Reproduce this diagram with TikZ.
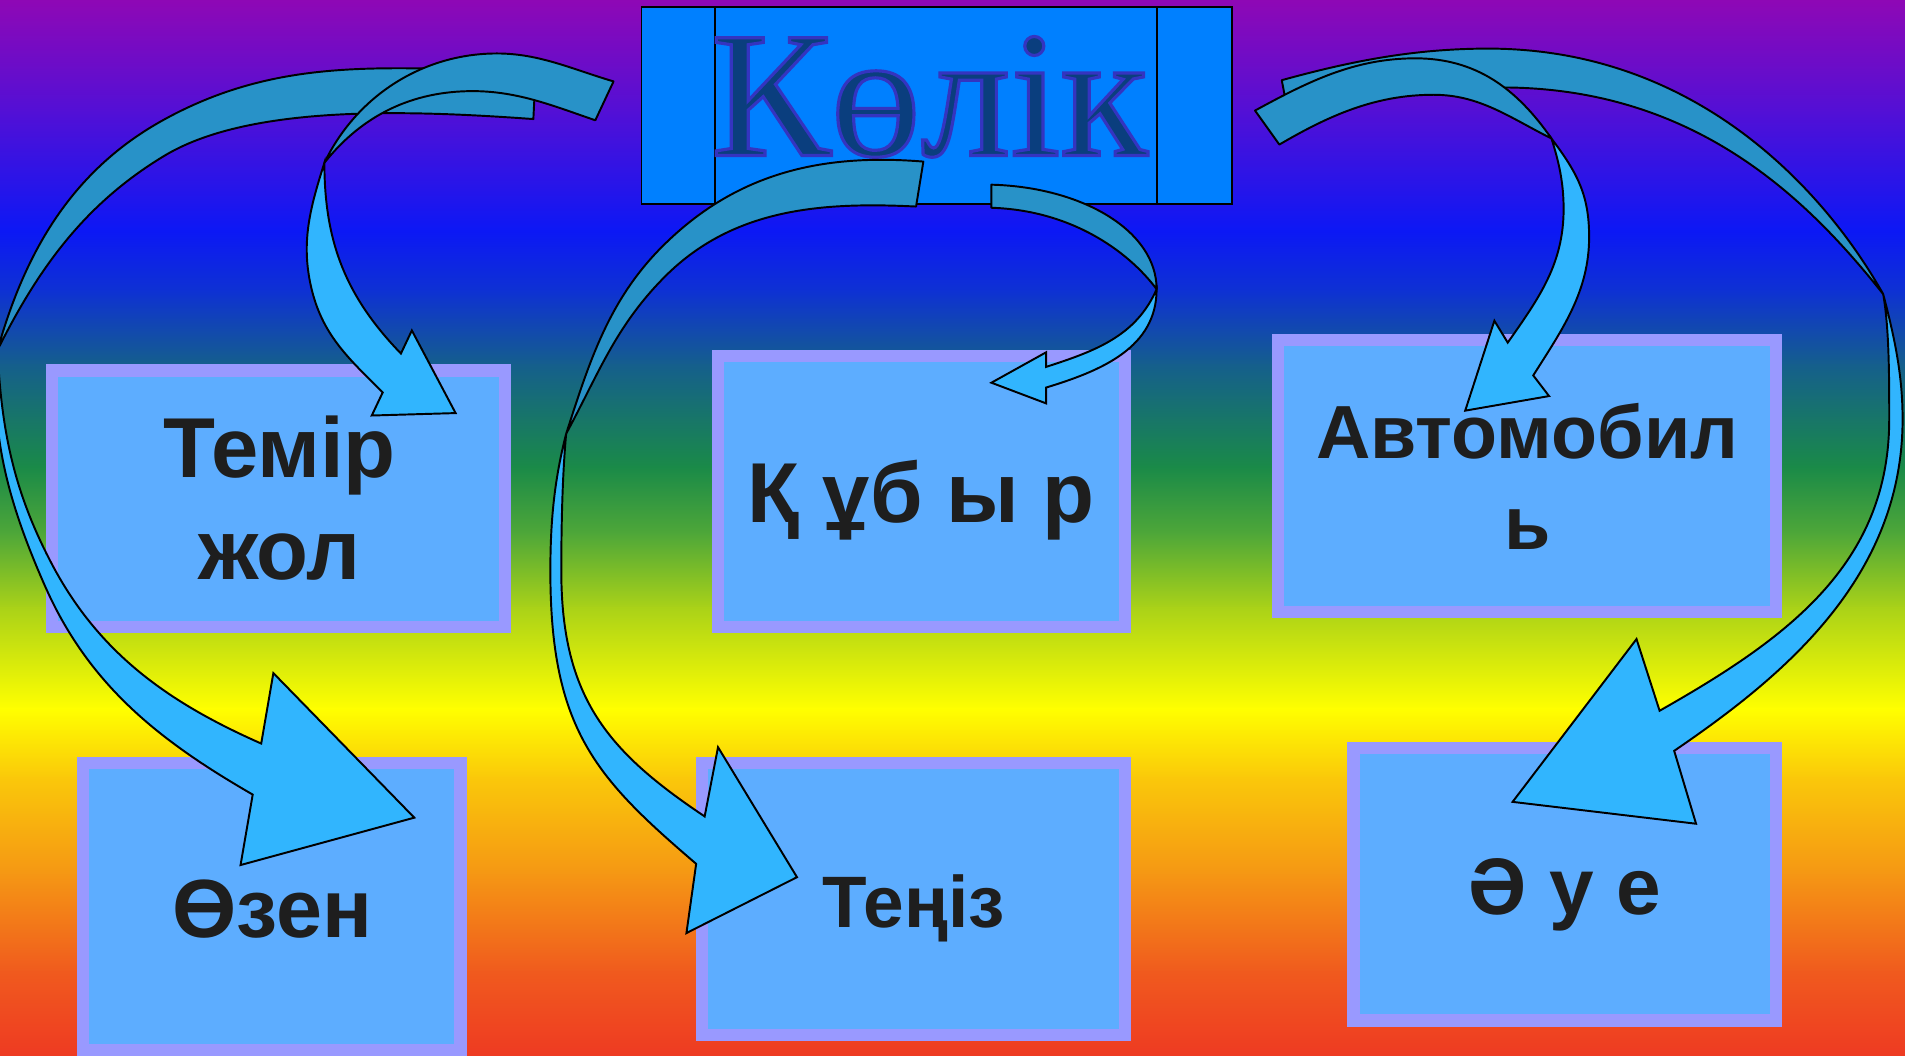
\documentclass[tikz,border=0pt]{standalone}
\usepackage{fontspec}
\setmainfont{Liberation Sans}
\newfontfamily\titlefont{Liberation Serif}
\definecolor{arrdark}{RGB}{40,146,200}
\definecolor{arrbright}{RGB}{49,181,254}
\definecolor{boxfill}{RGB}{93,173,255}
\definecolor{boxedge}{RGB}{153,153,255}
\definecolor{titlefill}{RGB}{0,128,255}
\definecolor{titletext}{RGB}{10,62,126}
\definecolor{labeltext}{RGB}{30,30,30}
\definecolor{g0}{RGB}{143,8,181}
\definecolor{g1}{RGB}{80,16,215}
\definecolor{g2}{RGB}{12,24,245}
\definecolor{g3}{RGB}{14,50,210}
\definecolor{g4}{RGB}{21,95,140}
\definecolor{g5}{RGB}{26,138,72}
\definecolor{g6}{RGB}{80,168,56}
\definecolor{g7}{RGB}{170,210,24}
\definecolor{g8}{RGB}{255,255,0}
\definecolor{g9}{RGB}{250,200,10}
\definecolor{g10}{RGB}{245,150,20}
\definecolor{g11}{RGB}{240,90,30}
\definecolor{g12}{RGB}{238,58,34}
\newcommand{\outlinedtitle}[1]{\special{pdf:code 2 Tr 1.3 w 0.204 0.204 0.753 RG}#1\special{pdf:code 0 Tr}}
\begin{document}
\begin{tikzpicture}[x=0.5pt,y=-0.5pt,
  box/.style={draw=boxedge, fill=boxfill, line width=5pt, inner sep=0pt},
  lbl/.style={text=labeltext, inner sep=0pt, anchor=base},
  titlelbl/.style={font=\titlefont\fontsize{74pt}{80pt}\selectfont, inner sep=0pt, anchor=base},
  adark/.style={fill=arrdark, draw=black, line width=0.8pt, line join=round},
  abright/.style={fill=arrbright, draw=black, line width=0.8pt, line join=miter},
  tline/.style={draw=black, line width=0.8pt}]
\useasboundingbox (0,0) rectangle (1568,869);
\clip (0,0) rectangle (1568,869);
% background gradient
\shade[top color=g0,bottom color=g1] (0,-1) rectangle (1568,96);
\shade[top color=g1,bottom color=g2] (0,95) rectangle (1568,191);
\shade[top color=g2,bottom color=g3] (0,190) rectangle (1568,241);
\shade[top color=g3,bottom color=g4] (0,240) rectangle (1568,301);
\shade[top color=g4,bottom color=g5] (0,300) rectangle (1568,385);
\shade[top color=g5,bottom color=g6] (0,384) rectangle (1568,441);
\shade[top color=g6,bottom color=g7] (0,440) rectangle (1568,501);
\shade[top color=g7,bottom color=g8] (0,500) rectangle (1568,584);
\shade[top color=g8,bottom color=g9] (0,583) rectangle (1568,641);
\shade[top color=g9,bottom color=g10] (0,640) rectangle (1568,721);
\shade[top color=g10,bottom color=g11] (0,720) rectangle (1568,801);
\shade[top color=g11,bottom color=g12] (0,800) rectangle (1568,870);
% title
\node[fill=titlefill, tline, minimum width=243pt, minimum height=81pt, inner sep=0pt] (title) at (771,87) {};
\draw[tline] (title.north west) ++(61,0) -- ++(0,162);
\draw[tline] (title.north west) ++(425,0) -- ++(0,162);
\node[titlelbl, text=titletext] (titletxt) at (765,128) {\outlinedtitle{Көлік}};
% boxes
\node[box, minimum width=186.5pt, minimum height=105.5pt] (temir) at (229.5,410.5) {};
\node[box, minimum width=167.5pt, minimum height=111.5pt] (qubyr) at (758.5,404.5) {};
\node[box, minimum width=205pt, minimum height=112pt] (avto) at (1257,392) {};
\node[box, minimum width=155.5pt, minimum height=118pt] (ozen) at (223.5,746) {};
\node[box, minimum width=174pt, minimum height=112pt] (teniz) at (752,740) {};
\node[box, minimum width=174pt, minimum height=112pt] (aue) at (1288,728) {};
% labels
\node[lbl, font=\bfseries\fontsize{35pt}{40pt}\selectfont] (t1) at (230,393) {Темір};
\node[lbl, font=\bfseries\fontsize{35pt}{40pt}\selectfont] (t2) at (230,477) {жол};
\node[lbl, font=\bfseries\fontsize{35pt}{40pt}\selectfont] (q1) at (758,430) {Қ ұб ы р};
\node[lbl, font=\bfseries\fontsize{31pt}{36pt}\selectfont] (a1) at (1257,377) {Автомобил};
\node[lbl, font=\bfseries\fontsize{31pt}{36pt}\selectfont] (a2) at (1257,452) {ь};
\node[lbl, font=\bfseries\fontsize{34pt}{40pt}\selectfont] (oz) at (224,772) {Өзен};
\node[lbl, font=\bfseries\fontsize{30pt}{36pt}\selectfont] (tz) at (752,763) {Теңіз};
\node[lbl, font=\bfseries\fontsize{33pt}{38pt}\selectfont] (ae) at (1288,753) {Ә у е};
% arrow B (to Өзен)
\coordinate (Bf) at (-2,288);
\draw[adark] (441,58) .. controls (326,58) and (235,43) .. (134,99)
  .. controls (60,140) and (21,206) .. (Bf)
  .. controls (32,220) and (70,168) .. (134,129)
  .. controls (202,87) and (329,90) .. (439,98) -- cycle;
\draw[abright] (Bf) .. controls (-9,358) and (8,416) .. (36,480)
  .. controls (72,563) and (130,609) .. (208,654)
  -- (198,712) -- (341,673) -- (225,554) -- (215,612)
  .. controls (138,578) and (80,537) .. (41,461)
  .. controls (11,403) and (1,353) .. (Bf) -- cycle;
% arrow A (to Темір жол)
\coordinate (Af) at (267,134);
\draw[adark] (505,67) .. controls (471,57) and (444,44) .. (409,44)
  .. controls (349,44) and (294,78) .. (Af)
  .. controls (298,95) and (339,75) .. (389,75)
  .. controls (426,75) and (455,87) .. (490,99) -- cycle;
\draw[abright] (Af) .. controls (255,172) and (247,201) .. (257,240)
  .. controls (266.5,277) and (288,296) .. (315,323)
  -- (306,342) -- (375,340) -- (339,272) -- (330,291)
  .. controls (284.5,244) and (267,199) .. (Af) -- cycle;
% arrow C (to Теңіз)
\coordinate (Cf) at (466,357);
\draw[adark] (760,133) .. controls (675,126) and (605,143) .. (545,203)
  .. controls (501,247) and (485,298) .. (Cf)
  .. controls (492,309) and (506,270) .. (545,230)
  .. controls (601,172) and (674,166) .. (754,170) -- cycle;
\draw[abright] (Cf) .. controls (456,396) and (453,430) .. (453,470)
  .. controls (453,600) and (490,640) .. (573,711)
  -- (565,768) -- (656,722) -- (591,615) -- (580,672)
  .. controls (501,619) and (462,575) .. (462,470)
  .. controls (462,430) and (463,390) .. (Cf) -- cycle;
% arrow D (to Құбыр)
\coordinate (Df) at (952,238);
\draw[adark] (816,152) .. controls (891,154) and (952,190) .. (Df)
  .. controls (928,206) and (881,173) .. (816,171) -- cycle;
\draw[abright] (Df) .. controls (952,286) and (907,305) .. (861,319)
  -- (861,332) -- (816,315) -- (861,290) -- (861,302)
  .. controls (901,289) and (935,277) .. (Df) -- cycle;
% arrow F (to Әуе)
\coordinate (Ff) at (1550,242);
\draw[adark] (1055,66) .. controls (1113,50) and (1165,40) .. (1225,40)
  .. controls (1395,40) and (1501,155) .. (Ff)
  .. controls (1491,168) and (1400,74) .. (1241,72)
  .. controls (1180,72) and (1110,80) .. (1060,92) -- cycle;
\draw[abright] (Ff) .. controls (1560,280) and (1566,310) .. (1566,345)
  .. controls (1566,475) and (1469,556) .. (1378,618)
  -- (1396,678) -- (1245,660) -- (1347,526) -- (1366,585)
  .. controls (1470,526) and (1555,465) .. (1555,345)
  .. controls (1555,310) and (1555,270) .. (Ff) -- cycle;
% arrow E (to Автомобиль)
\coordinate (Ef) at (1277,114);
\draw[adark] (1033,91) .. controls (1077,67) and (1115,48) .. (1165,48)
  .. controls (1215,48) and (1248.5,73) .. (Ef)
  .. controls (1243,97) and (1218,78) .. (1180,78)
  .. controls (1132,78) and (1094,95) .. (1053,119) -- cycle;
\draw[abright] (Ef) .. controls (1298,142) and (1308,160) .. (1308,195)
  .. controls (1308,240) and (1286,271) .. (1262,309)
  -- (1275,326) -- (1206,338) -- (1230,264) -- (1241,282)
  .. controls (1267,245) and (1287,217) .. (1287,172)
  .. controls (1287,150) and (1283,133) .. (Ef) -- cycle;
\end{tikzpicture}
\end{document}
